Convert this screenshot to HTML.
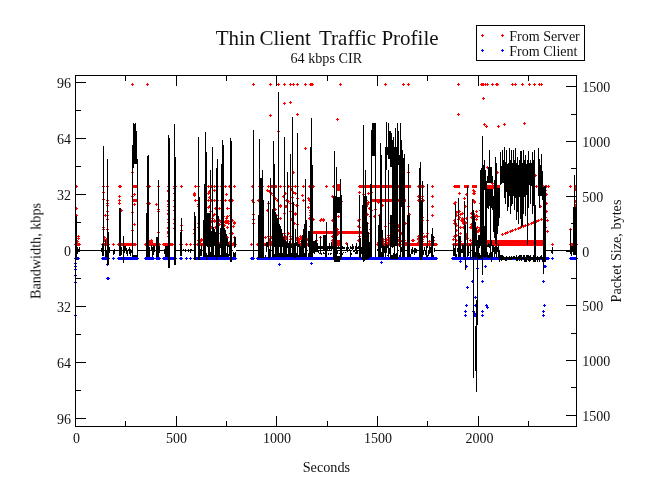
<!DOCTYPE html>
<html><head><meta charset="utf-8"><title>Thin Client Traffic Profile</title>
<style>
html,body{margin:0;padding:0;background:#fff;}
body{width:649px;height:501px;overflow:hidden;font-family:"Liberation Serif",serif;}
svg{display:block;}
</style></head><body>
<svg width="649" height="501" viewBox="0 0 649 501">
<rect x="0" y="0" width="649" height="501" fill="#fff"/>
<path d="M74 244h7v1h-7zM75 243h5v3h-5zM101 244h9v1h-9zM102 243h7v3h-7zM112 244h3v1h-3zM113 243h1v3h-1zM117 244h20v1h-20zM118 243h18v3h-18zM144 244h13v1h-13zM145 243h11v3h-11zM155 244h6v1h-6zM156 243h4v3h-4zM162 244h12v1h-12zM163 243h10v3h-10zM179 244h4v1h-4zM180 243h2v3h-2zM185 244h3v1h-3zM186 243h1v3h-1zM189 244h3v1h-3zM190 243h1v3h-1zM193 244h2v1h-2zM194 243h1v3h-1zM196 244h9v1h-9zM197 243h7v3h-7zM203 244h34v1h-34zM204 243h32v3h-32zM250 244h3v1h-3zM251 243h1v3h-1zM256 244h57v1h-57zM257 243h55v3h-55zM362 244h3v1h-3zM363 243h1v3h-1zM369 244h3v1h-3zM370 243h1v3h-1zM376 244h26v1h-26zM377 243h24v3h-24zM403 244h35v1h-35zM404 243h33v3h-33zM452 244h34v1h-34zM453 243h32v3h-32zM551 244h3v1h-3zM552 243h1v3h-1zM569 244h9v1h-9zM570 243h7v3h-7zM132 185h6v3h-6zM132 199h6v3h-6zM226 208h4v1h-4zM271 185h6v3h-6zM337 184h4v7h-4zM312 231h51v3h-51zM332 240h10v6h-10zM359 185h52v3h-52zM370 199h36v3h-36zM454 185h6v3h-6zM464 185h5v3h-5zM472 185h5v3h-5zM480 185h20v4h-20zM485 240h60v6h-60zM379 243h7v3h-7zM131 84h3v1h-3zM132 83h1v3h-1zM146 84h3v1h-3zM147 83h1v3h-1zM252 84h3v1h-3zM253 83h1v3h-1zM269 84h3v1h-3zM270 83h1v3h-1zM277 84h3v1h-3zM278 83h1v3h-1zM283 84h3v1h-3zM284 83h1v3h-1zM289 84h3v1h-3zM290 83h1v3h-1zM292 84h3v1h-3zM293 83h1v3h-1zM296 84h3v1h-3zM297 83h1v3h-1zM304 84h3v1h-3zM305 83h1v3h-1zM309 84h3v1h-3zM310 83h1v3h-1zM310 84h3v1h-3zM311 83h1v3h-1zM311 84h3v1h-3zM312 83h1v3h-1zM339 84h3v1h-3zM340 83h1v3h-1zM384 84h3v1h-3zM385 83h1v3h-1zM402 84h3v1h-3zM403 83h1v3h-1zM407 84h3v1h-3zM408 83h1v3h-1zM457 84h3v1h-3zM458 83h1v3h-1zM480 84h3v1h-3zM481 83h1v3h-1zM481 84h3v1h-3zM482 83h1v3h-1zM482 84h3v1h-3zM483 83h1v3h-1zM484 84h3v1h-3zM485 83h1v3h-1zM486 84h3v1h-3zM487 83h1v3h-1zM491 84h3v1h-3zM492 83h1v3h-1zM495 84h3v1h-3zM496 83h1v3h-1zM496 84h3v1h-3zM497 83h1v3h-1zM511 84h3v1h-3zM512 83h1v3h-1zM514 84h3v1h-3zM515 83h1v3h-1zM521 84h3v1h-3zM522 83h1v3h-1zM528 84h3v1h-3zM529 83h1v3h-1zM533 84h3v1h-3zM534 83h1v3h-1zM538 84h3v1h-3zM539 83h1v3h-1zM540 84h3v1h-3zM541 83h1v3h-1zM283 103h3v1h-3zM284 102h1v3h-1zM289 102h3v1h-3zM290 101h1v3h-1zM269 115h3v1h-3zM270 114h1v3h-1zM296 114h3v1h-3zM297 113h1v3h-1zM336 119h3v1h-3zM337 118h1v3h-1zM277 131h3v1h-3zM278 130h1v3h-1zM304 148h3v1h-3zM305 147h1v3h-1zM292 172h3v1h-3zM293 171h1v3h-1zM457 114h3v1h-3zM458 113h1v3h-1zM482 98h3v1h-3zM483 97h1v3h-1zM483 124h3v1h-3zM484 123h1v3h-1zM485 126h3v1h-3zM486 125h1v3h-1zM497 126h3v1h-3zM498 125h1v3h-1zM503 124h3v1h-3zM504 123h1v3h-1zM523 123h3v1h-3zM524 122h1v3h-1zM407 172h3v1h-3zM408 171h1v3h-1zM486 167h3v1h-3zM487 166h1v3h-1zM131 172h3v1h-3zM132 171h1v3h-1zM496 172h3v1h-3zM497 171h1v3h-1zM491 183h3v1h-3zM492 182h1v3h-1zM534 175h3v1h-3zM535 174h1v3h-1zM75 186h3v1h-3zM76 185h1v3h-1zM75 208h3v1h-3zM76 207h1v3h-1zM75 215h3v1h-3zM76 214h1v3h-1zM75 236h3v1h-3zM76 235h1v3h-1zM75 241h3v1h-3zM76 240h1v3h-1zM102 186h3v1h-3zM103 185h1v3h-1zM102 192h3v1h-3zM103 191h1v3h-1zM102 199h3v1h-3zM103 198h1v3h-1zM102 227h3v1h-3zM103 226h1v3h-1zM102 229h3v1h-3zM103 228h1v3h-1zM104 215h3v1h-3zM105 214h1v3h-1zM106 186h3v1h-3zM107 185h1v3h-1zM106 200h3v1h-3zM107 199h1v3h-1zM106 203h3v1h-3zM107 202h1v3h-1zM106 205h3v1h-3zM107 204h1v3h-1zM106 211h3v1h-3zM107 210h1v3h-1zM106 215h3v1h-3zM107 214h1v3h-1zM106 219h3v1h-3zM107 218h1v3h-1zM106 229h3v1h-3zM107 228h1v3h-1zM118 186h3v1h-3zM119 185h1v3h-1zM118 196h3v1h-3zM119 195h1v3h-1zM118 200h3v1h-3zM119 199h1v3h-1zM118 203h3v1h-3zM119 202h1v3h-1zM120 210h3v1h-3zM121 209h1v3h-1zM119 186h3v1h-3zM120 185h1v3h-1zM131 196h3v1h-3zM132 195h1v3h-1zM131 212h3v1h-3zM132 211h1v3h-1zM131 230h3v1h-3zM132 229h1v3h-1zM133 194h3v1h-3zM134 193h1v3h-1zM133 204h3v1h-3zM134 203h1v3h-1zM133 224h3v1h-3zM134 223h1v3h-1zM146 186h3v1h-3zM147 185h1v3h-1zM146 203h3v1h-3zM147 202h1v3h-1zM148 186h3v1h-3zM149 185h1v3h-1zM148 203h3v1h-3zM149 202h1v3h-1zM155 204h3v1h-3zM156 203h1v3h-1zM157 186h3v1h-3zM158 185h1v3h-1zM157 209h3v1h-3zM158 208h1v3h-1zM157 211h3v1h-3zM158 210h1v3h-1zM157 232h3v1h-3zM158 231h1v3h-1zM167 186h3v1h-3zM168 185h1v3h-1zM167 191h3v1h-3zM168 190h1v3h-1zM167 201h3v1h-3zM168 200h1v3h-1zM167 213h3v1h-3zM168 212h1v3h-1zM167 227h3v1h-3zM168 226h1v3h-1zM167 231h3v1h-3zM168 230h1v3h-1zM167 233h3v1h-3zM168 232h1v3h-1zM167 186h3v1h-3zM168 185h1v3h-1zM173 186h3v1h-3zM174 185h1v3h-1zM174 186h3v1h-3zM175 185h1v3h-1zM180 186h3v1h-3zM181 185h1v3h-1zM180 186h3v1h-3zM181 185h1v3h-1zM194 186h3v1h-3zM195 185h1v3h-1zM194 186h3v1h-3zM195 185h1v3h-1zM197 186h3v1h-3zM198 185h1v3h-1zM204 186h3v1h-3zM205 185h1v3h-1zM207 186h3v1h-3zM208 185h1v3h-1zM210 186h3v1h-3zM211 185h1v3h-1zM213 186h3v1h-3zM214 185h1v3h-1zM216 186h3v1h-3zM217 185h1v3h-1zM220 186h3v1h-3zM221 185h1v3h-1zM224 186h3v1h-3zM225 185h1v3h-1zM228 186h3v1h-3zM229 185h1v3h-1zM233 186h3v1h-3zM234 185h1v3h-1zM233 186h3v1h-3zM234 185h1v3h-1zM251 186h3v1h-3zM252 185h1v3h-1zM258 186h3v1h-3zM259 185h1v3h-1zM261 186h3v1h-3zM262 185h1v3h-1zM167 200h3v1h-3zM168 199h1v3h-1zM173 200h3v1h-3zM174 199h1v3h-1zM194 200h3v1h-3zM195 199h1v3h-1zM197 200h3v1h-3zM198 199h1v3h-1zM207 200h3v1h-3zM208 199h1v3h-1zM210 200h3v1h-3zM211 199h1v3h-1zM213 200h3v1h-3zM214 199h1v3h-1zM216 200h3v1h-3zM217 199h1v3h-1zM220 200h3v1h-3zM221 199h1v3h-1zM224 200h3v1h-3zM225 199h1v3h-1zM228 200h3v1h-3zM229 199h1v3h-1zM231 200h3v1h-3zM232 199h1v3h-1zM251 200h3v1h-3zM252 199h1v3h-1zM257 200h3v1h-3zM258 199h1v3h-1zM167 190h3v1h-3zM168 189h1v3h-1zM167 204h3v1h-3zM168 203h1v3h-1zM167 206h3v1h-3zM168 205h1v3h-1zM167 210h3v1h-3zM168 209h1v3h-1zM167 214h3v1h-3zM168 213h1v3h-1zM167 219h3v1h-3zM168 218h1v3h-1zM167 222h3v1h-3zM168 221h1v3h-1zM167 228h3v1h-3zM168 227h1v3h-1zM167 232h3v1h-3zM168 231h1v3h-1zM167 236h3v1h-3zM168 235h1v3h-1zM173 188h3v1h-3zM174 187h1v3h-1zM173 193h3v1h-3zM174 192h1v3h-1zM173 206h3v1h-3zM174 205h1v3h-1zM173 210h3v1h-3zM174 209h1v3h-1zM173 219h3v1h-3zM174 218h1v3h-1zM173 223h3v1h-3zM174 222h1v3h-1zM173 228h3v1h-3zM174 227h1v3h-1zM180 225h3v1h-3zM181 224h1v3h-1zM180 230h3v1h-3zM181 229h1v3h-1zM193 193h3v1h-3zM194 192h1v3h-1zM193 194h3v1h-3zM194 193h1v3h-1zM193 195h3v1h-3zM194 194h1v3h-1zM193 229h3v1h-3zM194 228h1v3h-1zM193 233h3v1h-3zM194 232h1v3h-1zM197 204h3v1h-3zM198 203h1v3h-1zM197 206h3v1h-3zM198 205h1v3h-1zM197 223h3v1h-3zM198 222h1v3h-1zM197 227h3v1h-3zM198 226h1v3h-1zM208 191h3v1h-3zM209 190h1v3h-1zM207 193h3v1h-3zM208 192h1v3h-1zM208 197h3v1h-3zM209 196h1v3h-1zM208 206h3v1h-3zM209 205h1v3h-1zM207 207h3v1h-3zM208 206h1v3h-1zM209 211h3v1h-3zM210 210h1v3h-1zM209 220h3v1h-3zM210 219h1v3h-1zM207 221h3v1h-3zM208 220h1v3h-1zM208 223h3v1h-3zM209 222h1v3h-1zM213 190h3v1h-3zM214 189h1v3h-1zM214 208h3v1h-3zM215 207h1v3h-1zM213 214h3v1h-3zM214 213h1v3h-1zM213 220h3v1h-3zM214 219h1v3h-1zM213 221h3v1h-3zM214 220h1v3h-1zM214 227h3v1h-3zM215 226h1v3h-1zM218 208h3v1h-3zM219 207h1v3h-1zM218 220h3v1h-3zM219 219h1v3h-1zM225 194h3v1h-3zM226 193h1v3h-1zM226 208h3v1h-3zM227 207h1v3h-1zM226 216h3v1h-3zM227 215h1v3h-1zM225 220h3v1h-3zM226 219h1v3h-1zM227 221h3v1h-3zM228 220h1v3h-1zM225 222h3v1h-3zM226 221h1v3h-1zM227 223h3v1h-3zM228 222h1v3h-1zM226 227h3v1h-3zM227 226h1v3h-1zM231 233h3v1h-3zM232 232h1v3h-1zM233 237h3v1h-3zM234 236h1v3h-1zM252 202h3v1h-3zM253 201h1v3h-1zM252 214h3v1h-3zM253 213h1v3h-1zM252 219h3v1h-3zM253 218h1v3h-1zM252 223h3v1h-3zM253 222h1v3h-1zM260 188h3v1h-3zM261 187h1v3h-1zM260 196h3v1h-3zM261 195h1v3h-1zM260 206h3v1h-3zM261 205h1v3h-1zM259 186h3v1h-3zM260 185h1v3h-1zM261 186h3v1h-3zM262 185h1v3h-1zM267 186h3v1h-3zM268 185h1v3h-1zM279 186h3v1h-3zM280 185h1v3h-1zM279 186h3v1h-3zM280 185h1v3h-1zM283 186h3v1h-3zM284 185h1v3h-1zM287 186h3v1h-3zM288 185h1v3h-1zM291 186h3v1h-3zM292 185h1v3h-1zM294 186h3v1h-3zM295 185h1v3h-1zM296 186h3v1h-3zM297 185h1v3h-1zM302 186h3v1h-3zM303 185h1v3h-1zM308 186h3v1h-3zM309 185h1v3h-1zM312 186h3v1h-3zM313 185h1v3h-1zM325 186h3v1h-3zM326 185h1v3h-1zM332 186h3v1h-3zM333 185h1v3h-1zM358 186h3v1h-3zM359 185h1v3h-1zM292 172h3v1h-3zM293 171h1v3h-1zM266 190h3v1h-3zM267 189h1v3h-1zM268 191h3v1h-3zM269 190h1v3h-1zM270 193h3v1h-3zM271 192h1v3h-1zM272 195h3v1h-3zM273 194h1v3h-1zM274 198h3v1h-3zM275 197h1v3h-1zM276 200h3v1h-3zM277 199h1v3h-1zM279 205h3v1h-3zM280 204h1v3h-1zM274 209h3v1h-3zM275 208h1v3h-1zM267 203h3v1h-3zM268 202h1v3h-1zM266 210h3v1h-3zM267 209h1v3h-1zM282 196h3v1h-3zM283 195h1v3h-1zM284 193h3v1h-3zM285 192h1v3h-1zM285 200h3v1h-3zM286 199h1v3h-1zM287 201h3v1h-3zM288 200h1v3h-1zM289 203h3v1h-3zM290 202h1v3h-1zM285 206h3v1h-3zM286 205h1v3h-1zM283 213h3v1h-3zM284 212h1v3h-1zM289 211h3v1h-3zM290 210h1v3h-1zM290 189h3v1h-3zM291 188h1v3h-1zM292 192h3v1h-3zM293 191h1v3h-1zM294 193h3v1h-3zM295 192h1v3h-1zM296 198h3v1h-3zM297 197h1v3h-1zM291 197h3v1h-3zM292 196h1v3h-1zM292 204h3v1h-3zM293 203h1v3h-1zM295 205h3v1h-3zM296 204h1v3h-1zM294 213h3v1h-3zM295 212h1v3h-1zM301 195h3v1h-3zM302 194h1v3h-1zM302 200h3v1h-3zM303 199h1v3h-1zM307 198h3v1h-3zM308 197h1v3h-1zM308 200h3v1h-3zM309 199h1v3h-1zM309 203h3v1h-3zM310 202h1v3h-1zM307 207h3v1h-3zM308 206h1v3h-1zM309 210h3v1h-3zM310 209h1v3h-1zM309 212h3v1h-3zM310 211h1v3h-1zM331 196h3v1h-3zM332 195h1v3h-1zM334 201h3v1h-3zM335 200h1v3h-1zM340 201h3v1h-3zM341 200h1v3h-1zM358 192h3v1h-3zM359 191h1v3h-1zM266 210h3v1h-3zM267 209h1v3h-1zM279 206h3v1h-3zM280 205h1v3h-1zM284 206h3v1h-3zM285 205h1v3h-1zM296 205h3v1h-3zM297 204h1v3h-1zM275 215h3v1h-3zM276 214h1v3h-1zM279 218h3v1h-3zM280 217h1v3h-1zM283 213h3v1h-3zM284 212h1v3h-1zM294 214h3v1h-3zM295 213h1v3h-1zM290 219h3v1h-3zM291 218h1v3h-1zM293 223h3v1h-3zM294 222h1v3h-1zM296 224h3v1h-3zM297 223h1v3h-1zM283 233h3v1h-3zM284 232h1v3h-1zM287 233h3v1h-3zM288 232h1v3h-1zM267 236h3v1h-3zM268 235h1v3h-1zM283 239h3v1h-3zM284 238h1v3h-1zM289 236h3v1h-3zM290 235h1v3h-1zM299 236h3v1h-3zM300 235h1v3h-1zM300 238h3v1h-3zM301 237h1v3h-1zM298 241h3v1h-3zM299 240h1v3h-1zM308 218h3v1h-3zM309 217h1v3h-1zM309 226h3v1h-3zM310 225h1v3h-1zM309 215h3v1h-3zM310 214h1v3h-1zM312 219h3v1h-3zM313 218h1v3h-1zM319 220h3v1h-3zM320 219h1v3h-1zM320 219h3v1h-3zM321 218h1v3h-1zM322 219h3v1h-3zM323 218h1v3h-1zM322 220h3v1h-3zM323 219h1v3h-1zM331 220h3v1h-3zM332 219h1v3h-1zM337 216h3v1h-3zM338 215h1v3h-1zM357 220h3v1h-3zM358 219h1v3h-1zM357 226h3v1h-3zM358 225h1v3h-1zM336 229h3v1h-3zM337 228h1v3h-1zM336 234h3v1h-3zM337 233h1v3h-1zM331 236h3v1h-3zM332 235h1v3h-1zM331 240h3v1h-3zM332 239h1v3h-1zM357 240h3v1h-3zM358 239h1v3h-1zM345 243h3v1h-3zM346 242h1v3h-1zM315 240h3v1h-3zM316 239h1v3h-1zM319 237h3v1h-3zM320 236h1v3h-1zM417 186h3v1h-3zM418 185h1v3h-1zM420 186h3v1h-3zM421 185h1v3h-1zM422 186h3v1h-3zM423 185h1v3h-1zM431 186h3v1h-3zM432 185h1v3h-1zM431 186h3v1h-3zM432 185h1v3h-1zM417 200h3v1h-3zM418 199h1v3h-1zM419 200h3v1h-3zM420 199h1v3h-1zM422 200h3v1h-3zM423 199h1v3h-1zM431 196h3v1h-3zM432 195h1v3h-1zM431 206h3v1h-3zM432 205h1v3h-1zM431 215h3v1h-3zM432 214h1v3h-1zM453 186h3v1h-3zM454 185h1v3h-1zM453 203h3v1h-3zM454 202h1v3h-1zM453 223h3v1h-3zM454 222h1v3h-1zM453 236h3v1h-3zM454 235h1v3h-1zM358 186h3v1h-3zM359 185h1v3h-1zM358 192h3v1h-3zM359 191h1v3h-1zM362 194h3v1h-3zM363 193h1v3h-1zM364 196h3v1h-3zM365 195h1v3h-1zM365 200h3v1h-3zM366 199h1v3h-1zM367 202h3v1h-3zM368 201h1v3h-1zM366 204h3v1h-3zM367 203h1v3h-1zM365 206h3v1h-3zM366 205h1v3h-1zM368 208h3v1h-3zM369 207h1v3h-1zM370 210h3v1h-3zM371 209h1v3h-1zM374 209h3v1h-3zM375 208h1v3h-1zM369 216h3v1h-3zM370 215h1v3h-1zM373 216h3v1h-3zM374 215h1v3h-1zM358 219h3v1h-3zM359 218h1v3h-1zM358 227h3v1h-3zM359 226h1v3h-1zM358 236h3v1h-3zM359 235h1v3h-1zM366 214h3v1h-3zM367 213h1v3h-1zM366 223h3v1h-3zM367 222h1v3h-1zM369 229h3v1h-3zM370 228h1v3h-1zM369 233h3v1h-3zM370 232h1v3h-1zM367 193h3v1h-3zM368 192h1v3h-1zM370 192h3v1h-3zM371 191h1v3h-1zM377 202h3v1h-3zM378 201h1v3h-1zM378 215h3v1h-3zM379 214h1v3h-1zM381 205h3v1h-3zM382 204h1v3h-1zM384 226h3v1h-3zM385 225h1v3h-1zM387 235h3v1h-3zM388 234h1v3h-1zM389 223h3v1h-3zM390 222h1v3h-1zM390 227h3v1h-3zM391 226h1v3h-1zM390 229h3v1h-3zM391 228h1v3h-1zM397 225h3v1h-3zM398 224h1v3h-1zM398 227h3v1h-3zM399 226h1v3h-1zM400 233h3v1h-3zM401 232h1v3h-1zM397 230h3v1h-3zM398 229h1v3h-1zM389 239h3v1h-3zM390 238h1v3h-1zM404 223h3v1h-3zM405 222h1v3h-1zM407 206h3v1h-3zM408 205h1v3h-1zM408 214h3v1h-3zM409 213h1v3h-1zM407 223h3v1h-3zM408 222h1v3h-1zM407 228h3v1h-3zM408 227h1v3h-1zM407 236h3v1h-3zM408 235h1v3h-1zM421 217h3v1h-3zM422 216h1v3h-1zM421 220h3v1h-3zM422 219h1v3h-1zM426 220h3v1h-3zM427 219h1v3h-1zM426 233h3v1h-3zM427 232h1v3h-1zM421 233h3v1h-3zM422 232h1v3h-1zM421 237h3v1h-3zM422 236h1v3h-1zM417 196h3v1h-3zM418 195h1v3h-1zM419 198h3v1h-3zM420 197h1v3h-1zM421 196h3v1h-3zM422 195h1v3h-1zM532 186h3v1h-3zM533 185h1v3h-1zM535 186h3v1h-3zM536 185h1v3h-1zM537 186h3v1h-3zM538 185h1v3h-1zM539 186h3v1h-3zM540 185h1v3h-1zM542 186h3v1h-3zM543 185h1v3h-1zM545 186h3v1h-3zM546 185h1v3h-1zM547 186h3v1h-3zM548 185h1v3h-1zM458 193h3v1h-3zM459 192h1v3h-1zM463 198h3v1h-3zM464 197h1v3h-1zM472 190h3v1h-3zM473 189h1v3h-1zM473 191h3v1h-3zM474 190h1v3h-1zM472 193h3v1h-3zM473 192h1v3h-1zM473 193h3v1h-3zM474 192h1v3h-1zM472 200h3v1h-3zM473 199h1v3h-1zM473 201h3v1h-3zM474 200h1v3h-1zM473 202h3v1h-3zM474 201h1v3h-1zM454 202h3v1h-3zM455 201h1v3h-1zM458 211h3v1h-3zM459 210h1v3h-1zM459 214h3v1h-3zM460 213h1v3h-1zM458 217h3v1h-3zM459 216h1v3h-1zM460 220h3v1h-3zM461 219h1v3h-1zM470 213h3v1h-3zM471 212h1v3h-1zM472 215h3v1h-3zM473 214h1v3h-1zM474 216h3v1h-3zM475 215h1v3h-1zM475 219h3v1h-3zM476 218h1v3h-1zM476 227h3v1h-3zM477 226h1v3h-1zM478 229h3v1h-3zM479 228h1v3h-1zM477 231h3v1h-3zM478 230h1v3h-1zM479 227h3v1h-3zM480 226h1v3h-1zM459 227h3v1h-3zM460 226h1v3h-1zM459 233h3v1h-3zM460 232h1v3h-1zM454 223h3v1h-3zM455 222h1v3h-1zM454 236h3v1h-3zM455 235h1v3h-1zM469 227h3v1h-3zM470 226h1v3h-1zM464 206h3v1h-3zM465 205h1v3h-1zM464 222h3v1h-3zM465 221h1v3h-1zM465 194h3v1h-3zM466 193h1v3h-1zM479 203h3v1h-3zM480 202h1v3h-1zM479 210h3v1h-3zM480 209h1v3h-1zM479 216h3v1h-3zM480 215h1v3h-1zM481 234h3v1h-3zM482 233h1v3h-1zM482 237h3v1h-3zM483 236h1v3h-1zM465 236h3v1h-3zM466 235h1v3h-1zM469 240h3v1h-3zM470 239h1v3h-1zM545 194h3v1h-3zM546 193h1v3h-1zM545 203h3v1h-3zM546 202h1v3h-1zM545 211h3v1h-3zM546 210h1v3h-1zM546 220h3v1h-3zM547 219h1v3h-1zM546 231h3v1h-3zM547 230h1v3h-1zM539 206h3v1h-3zM540 205h1v3h-1zM501 234h3v1h-3zM502 233h1v3h-1zM504 233h3v1h-3zM505 232h1v3h-1zM506 232h3v1h-3zM507 231h1v3h-1zM509 231h3v1h-3zM510 230h1v3h-1zM511 230h3v1h-3zM512 229h1v3h-1zM514 229h3v1h-3zM515 228h1v3h-1zM517 228h3v1h-3zM518 227h1v3h-1zM519 227h3v1h-3zM520 226h1v3h-1zM522 226h3v1h-3zM523 225h1v3h-1zM524 225h3v1h-3zM525 224h1v3h-1zM527 224h3v1h-3zM528 223h1v3h-1zM530 223h3v1h-3zM531 222h1v3h-1zM532 222h3v1h-3zM533 221h1v3h-1zM535 221h3v1h-3zM536 220h1v3h-1zM537 220h3v1h-3zM538 219h1v3h-1zM540 219h3v1h-3zM541 218h1v3h-1zM543 218h3v1h-3zM544 217h1v3h-1zM569 186h3v1h-3zM570 185h1v3h-1zM569 229h3v1h-3zM570 228h1v3h-1zM574 186h3v1h-3zM575 185h1v3h-1zM574 189h3v1h-3zM575 188h1v3h-1zM574 201h3v1h-3zM575 200h1v3h-1zM574 205h3v1h-3zM575 204h1v3h-1zM574 211h3v1h-3zM575 210h1v3h-1zM574 226h3v1h-3zM575 225h1v3h-1zM574 229h3v1h-3zM575 228h1v3h-1zM574 235h3v1h-3zM575 234h1v3h-1zM544 186h3v1h-3zM545 185h1v3h-1zM544 190h3v1h-3zM545 189h1v3h-1zM544 195h3v1h-3zM545 194h1v3h-1zM544 211h3v1h-3zM545 210h1v3h-1zM544 217h3v1h-3zM545 216h1v3h-1zM544 227h3v1h-3zM545 226h1v3h-1zM544 231h3v1h-3zM545 230h1v3h-1zM105 241h3v1h-3zM106 240h1v3h-1zM103 240h3v1h-3zM104 239h1v3h-1zM103 237h3v1h-3zM104 236h1v3h-1zM105 240h3v1h-3zM106 239h1v3h-1zM105 239h3v1h-3zM106 238h1v3h-1zM105 241h3v1h-3zM106 240h1v3h-1zM150 243h3v1h-3zM151 242h1v3h-1zM150 240h3v1h-3zM151 239h1v3h-1zM149 243h3v1h-3zM150 242h1v3h-1zM148 241h3v1h-3zM149 240h1v3h-1zM150 241h3v1h-3zM151 240h1v3h-1zM150 242h3v1h-3zM151 241h1v3h-1zM148 242h3v1h-3zM149 241h1v3h-1zM149 241h3v1h-3zM150 240h1v3h-1zM77 238h3v1h-3zM78 237h1v3h-1zM77 236h3v1h-3zM78 235h1v3h-1zM76 241h3v1h-3zM77 240h1v3h-1zM77 238h3v1h-3zM78 237h1v3h-1zM198 240h3v1h-3zM199 239h1v3h-1zM200 239h3v1h-3zM201 238h1v3h-1zM197 240h3v1h-3zM198 239h1v3h-1zM200 239h3v1h-3zM201 238h1v3h-1zM200 240h3v1h-3zM201 239h1v3h-1zM199 241h3v1h-3zM200 240h1v3h-1zM283 241h3v1h-3zM284 240h1v3h-1zM305 238h3v1h-3zM306 237h1v3h-1zM308 238h3v1h-3zM309 237h1v3h-1zM291 239h3v1h-3zM292 238h1v3h-1zM271 238h3v1h-3zM272 237h1v3h-1zM297 238h3v1h-3zM298 237h1v3h-1zM306 239h3v1h-3zM307 238h1v3h-1zM269 238h3v1h-3zM270 237h1v3h-1zM274 236h3v1h-3zM275 235h1v3h-1zM282 239h3v1h-3zM283 238h1v3h-1zM296 242h3v1h-3zM297 241h1v3h-1zM295 238h3v1h-3zM296 237h1v3h-1zM272 236h3v1h-3zM273 235h1v3h-1zM268 240h3v1h-3zM269 239h1v3h-1zM261 241h3v1h-3zM262 240h1v3h-1zM270 237h3v1h-3zM271 236h1v3h-1zM268 239h3v1h-3zM269 238h1v3h-1zM291 238h3v1h-3zM292 237h1v3h-1zM267 242h3v1h-3zM268 241h1v3h-1zM308 240h3v1h-3zM309 239h1v3h-1zM297 239h3v1h-3zM298 238h1v3h-1zM304 242h3v1h-3zM305 241h1v3h-1zM295 239h3v1h-3zM296 238h1v3h-1zM280 238h3v1h-3zM281 237h1v3h-1zM285 238h3v1h-3zM286 237h1v3h-1zM270 242h3v1h-3zM271 241h1v3h-1zM283 236h3v1h-3zM284 235h1v3h-1zM291 236h3v1h-3zM292 235h1v3h-1zM289 239h3v1h-3zM290 238h1v3h-1zM308 240h3v1h-3zM309 239h1v3h-1zM264 237h3v1h-3zM265 236h1v3h-1zM279 240h3v1h-3zM280 239h1v3h-1zM308 240h3v1h-3zM309 239h1v3h-1zM284 236h3v1h-3zM285 235h1v3h-1zM285 242h3v1h-3zM286 241h1v3h-1zM285 238h3v1h-3zM286 237h1v3h-1zM268 241h3v1h-3zM269 240h1v3h-1zM298 239h3v1h-3zM299 238h1v3h-1zM295 239h3v1h-3zM296 238h1v3h-1zM271 242h3v1h-3zM272 241h1v3h-1zM397 240h3v1h-3zM398 239h1v3h-1zM428 241h3v1h-3zM429 240h1v3h-1zM393 240h3v1h-3zM394 239h1v3h-1zM382 241h3v1h-3zM383 240h1v3h-1zM406 242h3v1h-3zM407 241h1v3h-1zM396 237h3v1h-3zM397 236h1v3h-1zM407 239h3v1h-3zM408 238h1v3h-1zM412 240h3v1h-3zM413 239h1v3h-1zM421 241h3v1h-3zM422 240h1v3h-1zM387 237h3v1h-3zM388 236h1v3h-1zM399 241h3v1h-3zM400 240h1v3h-1zM388 239h3v1h-3zM389 238h1v3h-1zM417 242h3v1h-3zM418 241h1v3h-1zM421 239h3v1h-3zM422 238h1v3h-1zM387 240h3v1h-3zM388 239h1v3h-1zM396 241h3v1h-3zM397 240h1v3h-1zM417 238h3v1h-3zM418 237h1v3h-1zM431 236h3v1h-3zM432 235h1v3h-1zM382 239h3v1h-3zM383 238h1v3h-1zM395 239h3v1h-3zM396 238h1v3h-1zM432 240h3v1h-3zM433 239h1v3h-1zM377 242h3v1h-3zM378 241h1v3h-1zM396 240h3v1h-3zM397 239h1v3h-1zM423 236h3v1h-3zM424 235h1v3h-1zM398 240h3v1h-3zM399 239h1v3h-1zM388 242h3v1h-3zM389 241h1v3h-1zM401 240h3v1h-3zM402 239h1v3h-1zM381 242h3v1h-3zM382 241h1v3h-1zM417 239h3v1h-3zM418 238h1v3h-1zM418 236h3v1h-3zM419 235h1v3h-1zM385 242h3v1h-3zM386 241h1v3h-1zM378 240h3v1h-3zM379 239h1v3h-1zM403 240h3v1h-3zM404 239h1v3h-1zM411 240h3v1h-3zM412 239h1v3h-1zM403 242h3v1h-3zM404 241h1v3h-1zM385 239h3v1h-3zM386 238h1v3h-1zM378 241h3v1h-3zM379 240h1v3h-1zM417 236h3v1h-3zM418 235h1v3h-1zM418 236h3v1h-3zM419 235h1v3h-1zM432 237h3v1h-3zM433 236h1v3h-1zM425 236h3v1h-3zM426 235h1v3h-1zM388 239h3v1h-3zM389 238h1v3h-1zM419 238h3v1h-3zM420 237h1v3h-1zM407 241h3v1h-3zM408 240h1v3h-1zM380 241h3v1h-3zM381 240h1v3h-1zM476 231h3v1h-3zM477 230h1v3h-1zM474 227h3v1h-3zM475 226h1v3h-1zM474 238h3v1h-3zM475 237h1v3h-1zM455 215h3v1h-3zM456 214h1v3h-1zM465 238h3v1h-3zM466 237h1v3h-1zM472 230h3v1h-3zM473 229h1v3h-1zM472 214h3v1h-3zM473 213h1v3h-1zM455 230h3v1h-3zM456 229h1v3h-1zM455 212h3v1h-3zM456 211h1v3h-1zM470 227h3v1h-3zM471 226h1v3h-1zM465 235h3v1h-3zM466 234h1v3h-1zM475 211h3v1h-3zM476 210h1v3h-1zM457 211h3v1h-3zM458 210h1v3h-1zM454 224h3v1h-3zM455 223h1v3h-1zM452 239h3v1h-3zM453 238h1v3h-1zM453 220h3v1h-3zM454 219h1v3h-1zM478 230h3v1h-3zM479 229h1v3h-1zM457 219h3v1h-3zM458 218h1v3h-1zM465 236h3v1h-3zM466 235h1v3h-1zM465 218h3v1h-3zM466 217h1v3h-1zM466 238h3v1h-3zM467 237h1v3h-1zM477 240h3v1h-3zM478 239h1v3h-1zM476 216h3v1h-3zM477 215h1v3h-1zM464 223h3v1h-3zM465 222h1v3h-1zM462 220h3v1h-3zM463 219h1v3h-1zM470 224h3v1h-3zM471 223h1v3h-1zM457 219h3v1h-3zM458 218h1v3h-1zM455 235h3v1h-3zM456 234h1v3h-1zM477 231h3v1h-3zM478 230h1v3h-1zM461 218h3v1h-3zM462 217h1v3h-1zM455 225h3v1h-3zM456 224h1v3h-1zM472 213h3v1h-3zM473 212h1v3h-1zM475 215h3v1h-3zM476 214h1v3h-1zM470 217h3v1h-3zM471 216h1v3h-1zM471 242h3v1h-3zM472 241h1v3h-1zM462 223h3v1h-3zM463 222h1v3h-1zM461 213h3v1h-3zM462 212h1v3h-1zM461 221h3v1h-3zM462 220h1v3h-1zM464 233h3v1h-3zM465 232h1v3h-1zM462 227h3v1h-3zM463 226h1v3h-1zM459 241h3v1h-3zM460 240h1v3h-1zM455 240h3v1h-3zM456 239h1v3h-1zM210 239h3v1h-3zM211 238h1v3h-1zM206 222h3v1h-3zM207 221h1v3h-1zM231 220h3v1h-3zM232 219h1v3h-1zM226 237h3v1h-3zM227 236h1v3h-1zM229 233h3v1h-3zM230 232h1v3h-1zM232 226h3v1h-3zM233 225h1v3h-1zM220 229h3v1h-3zM221 228h1v3h-1zM218 224h3v1h-3zM219 223h1v3h-1zM212 237h3v1h-3zM213 236h1v3h-1zM209 240h3v1h-3zM210 239h1v3h-1zM212 215h3v1h-3zM213 214h1v3h-1zM206 222h3v1h-3zM207 221h1v3h-1zM222 221h3v1h-3zM223 220h1v3h-1zM211 218h3v1h-3zM212 217h1v3h-1zM204 242h3v1h-3zM205 241h1v3h-1zM216 240h3v1h-3zM217 239h1v3h-1zM222 216h3v1h-3zM223 215h1v3h-1zM225 241h3v1h-3zM226 240h1v3h-1zM233 222h3v1h-3zM234 221h1v3h-1zM209 241h3v1h-3zM210 240h1v3h-1zM222 229h3v1h-3zM223 228h1v3h-1zM210 227h3v1h-3zM211 226h1v3h-1zM224 222h3v1h-3zM225 221h1v3h-1zM228 242h3v1h-3zM229 241h1v3h-1zM205 215h3v1h-3zM206 214h1v3h-1zM219 242h3v1h-3zM220 241h1v3h-1zM219 221h3v1h-3zM220 220h1v3h-1zM217 233h3v1h-3zM218 232h1v3h-1zM223 233h3v1h-3zM224 232h1v3h-1zM220 239h3v1h-3zM221 238h1v3h-1zM233 223h3v1h-3zM234 222h1v3h-1zM210 221h3v1h-3zM211 220h1v3h-1zM209 239h3v1h-3zM210 238h1v3h-1zM225 218h3v1h-3zM226 217h1v3h-1zM233 242h3v1h-3zM234 241h1v3h-1zM229 215h3v1h-3zM230 214h1v3h-1zM222 239h3v1h-3zM223 238h1v3h-1zM216 216h3v1h-3zM217 215h1v3h-1zM223 225h3v1h-3zM224 224h1v3h-1zM219 242h3v1h-3zM220 241h1v3h-1z" fill="#f00" shape-rendering="crispEdges"/>
<path d="M74 258h6v1h-6zM75 257h4v3h-4zM101 258h9v1h-9zM102 257h7v3h-7zM112 258h3v1h-3zM113 257h1v3h-1zM117 258h22v1h-22zM118 257h20v3h-20zM144 258h11v1h-11zM145 257h9v3h-9zM155 258h6v1h-6zM156 257h4v3h-4zM162 258h15v1h-15zM163 257h13v3h-13zM179 258h4v1h-4zM180 257h2v3h-2zM185 258h3v1h-3zM186 257h1v3h-1zM189 258h3v1h-3zM190 257h1v3h-1zM193 258h44v1h-44zM194 257h42v3h-42zM250 258h5v1h-5zM251 257h3v3h-3zM256 258h182v1h-182zM257 257h180v3h-180zM451 258h99v1h-99zM452 257h97v3h-97zM551 258h3v1h-3zM552 257h1v3h-1zM569 258h9v1h-9zM570 257h7v3h-7zM74 263h3v1h-3zM75 262h1v3h-1zM74 266h3v1h-3zM75 265h1v3h-1zM74 269h3v1h-3zM75 268h1v3h-1zM74 275h3v1h-3zM75 274h1v3h-1zM74 282h3v1h-3zM75 281h1v3h-1zM74 315h3v1h-3zM75 314h1v3h-1zM106 264h3v1h-3zM107 263h1v3h-1zM106 278h3v1h-3zM107 277h1v3h-1zM107 278h3v1h-3zM108 277h1v3h-1zM278 264h3v1h-3zM279 263h1v3h-1zM459 261h3v1h-3zM460 260h1v3h-1zM465 266h3v1h-3zM466 265h1v3h-1zM476 268h3v1h-3zM477 267h1v3h-1zM484 266h3v1h-3zM485 265h1v3h-1zM471 281h3v1h-3zM472 280h1v3h-1zM481 281h3v1h-3zM482 280h1v3h-1zM466 287h3v1h-3zM467 286h1v3h-1zM474 297h3v1h-3zM475 296h1v3h-1zM543 266h3v1h-3zM544 265h1v3h-1zM542 281h3v1h-3zM543 280h1v3h-1zM465 305h3v1h-3zM466 304h1v3h-1zM464 311h3v1h-3zM465 310h1v3h-1zM464 315h3v1h-3zM465 314h1v3h-1zM474 305h3v1h-3zM475 304h1v3h-1zM472 311h3v1h-3zM473 310h1v3h-1zM473 313h3v1h-3zM474 312h1v3h-1zM473 315h3v1h-3zM474 314h1v3h-1zM474 315h3v1h-3zM475 314h1v3h-1zM481 311h3v1h-3zM482 310h1v3h-1zM481 315h3v1h-3zM482 314h1v3h-1zM485 305h3v1h-3zM486 304h1v3h-1zM486 307h3v1h-3zM487 306h1v3h-1zM543 305h3v1h-3zM544 304h1v3h-1zM542 311h3v1h-3zM543 310h1v3h-1zM542 315h3v1h-3zM543 314h1v3h-1zM544 266h3v1h-3zM545 265h1v3h-1zM380 262h3v1h-3zM381 261h1v3h-1zM310 263h3v1h-3zM311 262h1v3h-1z" fill="#00f" shape-rendering="crispEdges"/>
<path d="M76 216h1v44h-1zM103 146h1v110h-1zM105 240h1v17h-1zM107 159h1v106h-1zM108 232h1v33h-1zM119 208h1v48h-1zM120 208h1v48h-1zM123 236h1v27h-1zM132 145h1v111h-1zM133 123h1v45h-1zM134 124h1v40h-1zM135 123h1v41h-1zM136 131h1v33h-1zM137 159h1v97h-1zM132 255h1v2h-1zM133 255h1v2h-1zM134 255h1v2h-1zM135 255h1v2h-1zM136 255h1v2h-1zM137 255h1v2h-1zM146 213h1v44h-1zM147 156h1v101h-1zM148 155h1v102h-1zM156 237h1v20h-1zM157 237h1v20h-1zM158 180h1v77h-1zM168 135h1v133h-1zM169 138h1v130h-1zM165 246h1v11h-1zM166 246h1v11h-1zM167 246h1v11h-1zM174 124h1v141h-1zM175 157h1v108h-1zM180 232h1v24h-1zM181 218h1v38h-1zM194 212h1v48h-1zM195 216h1v44h-1zM198 137h1v123h-1zM199 197h1v63h-1zM203 220h1v37h-1zM204 184h1v73h-1zM205 132h1v125h-1zM206 152h1v108h-1zM207 213h1v44h-1zM208 213h1v44h-1zM209 213h1v44h-1zM210 170h1v87h-1zM211 231h1v26h-1zM212 147h1v110h-1zM213 227h1v30h-1zM214 229h1v28h-1zM215 232h1v25h-1zM216 168h1v92h-1zM217 159h1v98h-1zM218 216h1v41h-1zM219 244h1v13h-1zM220 228h1v29h-1zM221 164h1v93h-1zM222 140h1v117h-1zM223 145h1v112h-1zM224 228h1v29h-1zM225 230h1v27h-1zM226 234h1v23h-1zM227 238h1v19h-1zM228 242h1v15h-1zM230 138h1v124h-1zM231 141h1v121h-1zM234 237h1v20h-1zM235 237h1v20h-1zM253 130h1v127h-1zM258 215h1v43h-1zM259 139h1v119h-1zM260 178h1v80h-1zM261 178h1v80h-1zM262 170h1v88h-1zM263 200h1v58h-1zM268 201h1v56h-1zM270 178h1v79h-1zM272 209h1v48h-1zM273 141h1v116h-1zM274 164h1v93h-1zM275 212h1v45h-1zM276 215h1v42h-1zM277 218h1v39h-1zM278 92h1v165h-1zM279 224h1v33h-1zM280 226h1v31h-1zM281 229h1v28h-1zM282 233h1v24h-1zM283 237h1v20h-1zM284 137h1v120h-1zM285 240h1v17h-1zM286 242h1v15h-1zM287 172h1v85h-1zM288 243h1v14h-1zM289 241h1v16h-1zM290 154h1v103h-1zM291 244h1v13h-1zM292 117h1v140h-1zM293 202h1v55h-1zM294 243h1v14h-1zM295 229h1v28h-1zM296 242h1v15h-1zM297 133h1v124h-1zM298 244h1v13h-1zM299 245h1v12h-1zM300 246h1v11h-1zM301 240h1v17h-1zM302 235h1v22h-1zM303 229h1v28h-1zM304 224h1v33h-1zM305 179h1v78h-1zM306 220h1v37h-1zM308 231h1v26h-1zM309 231h1v26h-1zM310 147h1v110h-1zM311 118h1v139h-1zM312 165h1v92h-1zM313 241h1v9h-1zM314 241h1v9h-1zM315 240h1v10h-1zM316 234h1v16h-1zM317 243h1v7h-1zM320 236h1v14h-1zM323 235h1v15h-1zM324 235h1v15h-1zM325 235h1v15h-1zM326 222h1v35h-1zM329 243h1v7h-1zM331 242h1v8h-1zM333 196h1v64h-1zM334 151h1v111h-1zM335 196h1v66h-1zM336 167h1v93h-1zM337 197h1v16h-1zM338 197h1v16h-1zM339 197h1v16h-1zM336 256h1v6h-1zM337 256h1v6h-1zM338 256h1v6h-1zM339 256h1v6h-1zM340 179h1v81h-1zM341 195h1v63h-1zM347 243h1v7h-1zM352 244h1v6h-1zM356 243h1v7h-1zM359 195h1v63h-1zM360 238h1v20h-1zM362 205h1v55h-1zM363 125h1v137h-1zM364 196h1v65h-1zM365 170h1v90h-1zM366 196h1v64h-1zM367 222h1v37h-1zM368 232h1v27h-1zM369 242h1v16h-1zM370 184h1v73h-1zM371 130h1v127h-1zM372 123h1v33h-1zM373 123h1v33h-1zM374 123h1v33h-1zM375 123h1v134h-1zM378 225h1v32h-1zM379 215h1v42h-1zM380 143h1v114h-1zM381 155h1v102h-1zM382 230h1v27h-1zM385 147h1v110h-1zM386 122h1v48h-1zM387 147h1v8h-1zM388 123h1v36h-1zM389 131h1v28h-1zM388 170h1v87h-1zM390 131h1v36h-1zM390 215h1v44h-1zM391 133h1v34h-1zM391 215h1v44h-1zM392 140h1v119h-1zM393 137h1v122h-1zM394 147h1v112h-1zM395 128h1v131h-1zM396 147h1v112h-1zM397 123h1v136h-1zM398 131h1v34h-1zM399 155h1v52h-1zM400 123h1v84h-1zM401 140h1v67h-1zM402 150h1v57h-1zM399 207h1v50h-1zM400 207h1v50h-1zM402 207h1v50h-1zM403 158h1v99h-1zM404 154h1v103h-1zM407 215h1v42h-1zM408 164h1v93h-1zM409 215h1v42h-1zM419 168h1v89h-1zM420 162h1v98h-1zM421 200h1v60h-1zM422 181h1v76h-1zM427 184h1v73h-1zM431 234h1v23h-1zM432 228h1v29h-1zM433 236h1v21h-1zM453 248h1v8h-1zM454 248h1v8h-1zM455 248h1v8h-1zM455 204h1v53h-1zM458 198h1v59h-1zM459 236h1v21h-1zM460 236h1v21h-1zM464 201h1v56h-1zM465 225h1v45h-1zM467 186h1v71h-1zM472 199h1v58h-1zM473 210h1v168h-1zM474 216h1v41h-1zM475 222h1v35h-1zM476 228h1v29h-1zM478 235h1v22h-1zM479 235h1v22h-1zM475 326h1v45h-1zM476 300h1v92h-1zM477 240h1v85h-1zM480 170h1v87h-1zM481 168h1v89h-1zM482 136h1v139h-1zM483 165h1v92h-1zM484 160h1v30h-1zM484 226h1v31h-1zM485 170h1v87h-1zM486 181h1v76h-1zM487 176h1v7h-1zM487 189h1v19h-1zM487 245h1v13h-1zM488 167h1v16h-1zM488 189h1v20h-1zM488 244h1v14h-1zM489 150h1v33h-1zM489 189h1v17h-1zM489 244h1v14h-1zM491 167h1v16h-1zM491 189h1v19h-1zM491 244h1v14h-1zM492 176h1v7h-1zM492 189h1v21h-1zM492 245h1v13h-1zM490 167h1v16h-1zM490 189h1v68h-1zM491 240h1v22h-1zM493 196h1v36h-1zM494 180h1v58h-1zM495 157h1v87h-1zM496 163h1v94h-1zM497 188h1v46h-1zM498 188h1v38h-1zM499 188h1v30h-1zM500 152h1v33h-1zM501 166h1v18h-1zM502 150h1v33h-1zM503 160h1v23h-1zM504 147h1v51h-1zM505 162h1v42h-1zM506 150h1v42h-1zM507 164h1v47h-1zM508 163h1v44h-1zM509 148h1v48h-1zM510 160h1v54h-1zM511 150h1v56h-1zM512 163h1v41h-1zM513 150h1v46h-1zM514 160h1v50h-1zM515 148h1v50h-1zM516 163h1v57h-1zM517 157h1v55h-1zM518 165h1v59h-1zM519 160h1v37h-1zM520 151h1v68h-1zM521 151h1v77h-1zM522 163h1v63h-1zM523 150h1v64h-1zM524 160h1v37h-1zM525 155h1v61h-1zM526 164h1v31h-1zM527 160h1v85h-1zM528 151h1v57h-1zM529 163h1v22h-1zM530 160h1v44h-1zM531 163h1v23h-1zM532 152h1v62h-1zM533 160h1v46h-1zM534 150h1v43h-1zM534 193h1v69h-1zM535 205h1v57h-1zM538 148h1v48h-1zM539 159h1v49h-1zM540 165h1v31h-1zM541 154h1v42h-1zM542 171h1v29h-1zM543 187h1v87h-1zM544 186h1v76h-1zM545 186h1v74h-1zM570 229h1v25h-1zM573 207h1v48h-1zM574 175h1v80h-1zM575 207h1v48h-1zM76 250h28v1h-28zM109 250h10v1h-10zM138 250h8v1h-8zM160 250h4v1h-4zM176 250h4v1h-4zM182 250h12v1h-12zM236 250h17v1h-17zM254 250h4v1h-4zM434 250h20v1h-20zM546 250h25v1h-25zM77 247h1v7h-1zM78 249h1v3h-1zM79 247h1v5h-1zM101 248h1v4h-1zM102 244h1v12h-1zM103 246h1v8h-1zM104 250h1v1h-1zM105 246h1v10h-1zM106 250h1v7h-1zM107 250h1v1h-1zM108 249h1v6h-1zM109 247h1v6h-1zM113 250h1v5h-1zM114 249h1v5h-1zM120 250h1v4h-1zM121 247h1v8h-1zM122 250h1v1h-1zM123 248h1v5h-1zM124 246h1v7h-1zM125 246h1v5h-1zM126 248h1v6h-1zM127 250h1v6h-1zM128 249h1v2h-1zM129 247h1v7h-1zM130 249h1v7h-1zM131 250h1v3h-1zM149 247h1v10h-1zM150 250h1v1h-1zM151 245h1v6h-1zM152 247h1v10h-1zM153 245h1v10h-1zM154 246h1v6h-1zM155 250h1v1h-1zM156 247h1v9h-1zM157 247h1v7h-1zM158 250h1v1h-1zM159 246h1v7h-1zM160 250h1v1h-1zM164 249h1v5h-1zM165 250h1v1h-1zM166 250h1v1h-1zM167 250h1v1h-1zM183 249h1v2h-1zM184 250h1v1h-1zM185 249h1v3h-1zM186 250h1v1h-1zM187 250h1v1h-1zM188 249h1v3h-1zM189 250h1v1h-1zM190 249h1v4h-1zM191 249h1v2h-1zM199 248h1v4h-1zM200 249h1v7h-1zM201 245h1v11h-1zM202 250h1v1h-1zM203 247h1v7h-1zM203 247h1v4h-1zM204 250h1v5h-1zM205 250h1v1h-1zM206 245h1v9h-1zM207 246h1v8h-1zM208 249h1v7h-1zM209 250h1v1h-1zM210 247h1v8h-1zM211 246h1v9h-1zM212 249h1v3h-1zM213 250h1v1h-1zM214 247h1v7h-1zM215 250h1v2h-1zM216 246h1v9h-1zM217 250h1v1h-1zM218 249h1v5h-1zM219 250h1v1h-1zM220 245h1v10h-1zM221 249h1v6h-1zM222 250h1v4h-1zM223 250h1v1h-1zM224 250h1v1h-1zM225 250h1v4h-1zM226 248h1v5h-1zM227 250h1v1h-1zM228 248h1v8h-1zM229 245h1v11h-1zM230 248h1v5h-1zM231 247h1v4h-1zM232 250h1v1h-1zM233 250h1v7h-1zM234 250h1v5h-1zM235 247h1v8h-1zM262 249h1v3h-1zM263 249h1v6h-1zM264 250h1v1h-1zM265 244h1v14h-1zM266 242h1v10h-1zM267 242h1v9h-1zM268 249h1v9h-1zM269 249h1v9h-1zM270 243h1v12h-1zM271 250h1v1h-1zM272 248h1v6h-1zM273 245h1v13h-1zM274 247h1v9h-1zM275 246h1v8h-1zM276 247h1v7h-1zM277 245h1v9h-1zM278 243h1v13h-1zM279 250h1v2h-1zM280 250h1v1h-1zM281 248h1v4h-1zM282 246h1v8h-1zM283 244h1v14h-1zM284 243h1v13h-1zM285 250h1v5h-1zM286 250h1v1h-1zM287 246h1v10h-1zM288 250h1v3h-1zM289 247h1v4h-1zM290 246h1v8h-1zM291 250h1v2h-1zM292 242h1v14h-1zM293 250h1v1h-1zM294 247h1v11h-1zM295 250h1v8h-1zM296 250h1v3h-1zM297 245h1v8h-1zM298 247h1v5h-1zM299 244h1v9h-1zM300 247h1v4h-1zM301 242h1v14h-1zM302 247h1v5h-1zM303 249h1v5h-1zM304 244h1v8h-1zM305 250h1v1h-1zM306 245h1v10h-1zM307 250h1v1h-1zM308 250h1v1h-1zM309 249h1v2h-1zM310 242h1v15h-1zM311 243h1v8h-1zM312 249h1v8h-1zM410 249h1v6h-1zM411 249h1v5h-1zM412 247h1v7h-1zM413 250h1v2h-1zM414 248h1v7h-1zM415 248h1v5h-1zM416 249h1v4h-1zM417 250h1v1h-1zM418 250h1v1h-1zM419 247h1v5h-1zM423 250h1v5h-1zM424 247h1v4h-1zM425 250h1v5h-1zM426 246h1v11h-1zM427 250h1v1h-1zM428 250h1v6h-1zM429 246h1v8h-1zM430 247h1v6h-1zM431 247h1v5h-1zM432 247h1v8h-1zM433 249h1v5h-1zM434 248h1v4h-1zM376 250h1v1h-1zM377 249h1v2h-1zM378 248h1v8h-1zM379 247h1v5h-1zM380 246h1v6h-1zM381 246h1v9h-1zM382 245h1v12h-1zM383 245h1v12h-1zM384 246h1v7h-1zM385 244h1v10h-1zM386 244h1v9h-1zM387 245h1v11h-1zM388 250h1v1h-1zM389 248h1v6h-1zM390 249h1v3h-1zM391 249h1v4h-1zM392 248h1v9h-1zM393 244h1v13h-1zM394 245h1v8h-1zM395 245h1v6h-1zM396 246h1v10h-1zM397 250h1v1h-1zM398 250h1v1h-1zM399 246h1v10h-1zM400 245h1v9h-1zM401 247h1v5h-1zM402 244h1v14h-1zM403 249h1v3h-1zM404 244h1v9h-1zM405 250h1v1h-1zM406 250h1v1h-1zM407 250h1v3h-1zM408 250h1v1h-1zM409 244h1v8h-1zM410 247h1v10h-1zM453 244h1v10h-1zM454 250h1v1h-1zM455 248h1v9h-1zM456 245h1v12h-1zM457 248h1v4h-1zM458 250h1v6h-1zM459 244h1v10h-1zM460 245h1v10h-1zM461 249h1v4h-1zM462 244h1v9h-1zM463 245h1v12h-1zM464 244h1v10h-1zM465 249h1v7h-1zM466 249h1v2h-1zM467 250h1v4h-1zM468 246h1v10h-1zM469 244h1v9h-1zM470 244h1v15h-1zM471 250h1v1h-1zM472 249h1v8h-1zM473 250h1v1h-1zM474 249h1v5h-1zM475 244h1v15h-1zM476 247h1v10h-1zM477 246h1v9h-1zM478 245h1v14h-1zM479 244h1v15h-1zM480 249h1v9h-1zM481 249h1v10h-1zM482 250h1v7h-1zM483 248h1v9h-1zM484 248h1v10h-1zM485 250h1v7h-1zM486 244h1v11h-1zM487 246h1v10h-1zM488 243h1v12h-1zM489 246h1v9h-1zM490 247h1v4h-1zM491 244h1v13h-1zM492 245h1v12h-1zM493 245h1v7h-1zM494 247h1v10h-1zM495 246h1v8h-1zM496 249h1v9h-1zM497 247h1v5h-1zM498 244h1v14h-1zM499 250h1v6h-1zM551 250h1v3h-1zM552 247h1v7h-1zM571 246h1v10h-1zM572 246h1v6h-1zM573 249h1v3h-1zM574 246h1v7h-1zM575 246h1v7h-1zM576 246h1v10h-1zM313 246h1v3h-1zM313 250h1v1h-1zM313 251h1v2h-1zM314 246h1v3h-1zM314 250h1v1h-1zM314 251h1v3h-1zM315 246h1v3h-1zM315 250h1v1h-1zM315 251h1v1h-1zM316 246h1v3h-1zM316 249h1v1h-1zM316 250h1v1h-1zM316 251h1v1h-1zM317 246h1v3h-1zM317 249h1v1h-1zM317 250h1v1h-1zM317 251h1v1h-1zM318 246h1v3h-1zM318 250h1v1h-1zM318 251h1v2h-1zM319 246h1v3h-1zM319 250h1v1h-1zM319 253h1v1h-1zM320 246h1v3h-1zM320 250h1v1h-1zM320 251h1v3h-1zM321 246h1v3h-1zM321 250h1v1h-1zM321 253h1v2h-1zM322 246h1v3h-1zM322 250h1v1h-1zM323 246h1v3h-1zM323 250h1v1h-1zM323 252h1v2h-1zM324 246h1v3h-1zM324 250h1v1h-1zM324 253h1v1h-1zM325 246h1v3h-1zM325 250h1v1h-1zM325 251h1v6h-1zM326 246h1v3h-1zM326 250h1v1h-1zM327 246h1v3h-1zM327 249h1v1h-1zM327 250h1v1h-1zM328 246h1v3h-1zM328 250h1v1h-1zM328 253h1v2h-1zM329 246h1v3h-1zM329 250h1v1h-1zM330 246h1v3h-1zM330 250h1v1h-1zM330 253h1v2h-1zM331 246h1v3h-1zM331 250h1v1h-1zM331 253h1v1h-1zM332 246h1v3h-1zM333 246h1v3h-1zM333 250h1v1h-1zM333 253h1v2h-1zM336 247h1v2h-1zM336 250h1v1h-1zM336 252h1v1h-1zM337 247h1v2h-1zM337 250h1v1h-1zM337 251h1v3h-1zM338 247h1v2h-1zM338 246h1v1h-1zM338 250h1v1h-1zM339 247h1v2h-1zM339 250h1v1h-1zM339 253h1v1h-1zM341 246h1v1h-1zM341 250h1v1h-1zM342 247h1v2h-1zM342 246h1v1h-1zM342 250h1v1h-1zM342 253h1v2h-1zM343 247h1v2h-1zM343 250h1v1h-1zM343 252h1v1h-1zM344 247h1v2h-1zM344 250h1v1h-1zM345 250h1v1h-1zM345 252h1v1h-1zM346 247h1v2h-1zM346 249h1v1h-1zM346 250h1v1h-1zM347 247h1v2h-1zM347 246h1v1h-1zM347 250h1v1h-1zM347 251h1v1h-1zM348 247h1v2h-1zM348 250h1v1h-1zM349 249h1v1h-1zM349 250h1v1h-1zM350 247h1v2h-1zM350 246h1v1h-1zM350 250h1v1h-1zM350 251h1v6h-1zM351 247h1v2h-1zM351 250h1v1h-1zM351 253h1v2h-1zM353 247h1v2h-1zM353 246h1v1h-1zM353 250h1v1h-1zM353 251h1v1h-1zM354 250h1v1h-1zM354 251h1v1h-1zM355 247h1v2h-1zM355 246h1v1h-1zM355 249h1v1h-1zM355 250h1v1h-1zM355 252h1v2h-1zM356 247h1v2h-1zM356 246h1v1h-1zM356 250h1v1h-1zM356 251h1v3h-1zM357 247h1v2h-1zM357 250h1v1h-1zM357 251h1v3h-1zM358 247h1v2h-1zM358 246h1v1h-1zM358 250h1v1h-1zM359 247h1v2h-1zM359 250h1v1h-1zM359 253h1v1h-1zM360 250h1v1h-1zM361 247h1v2h-1zM361 249h1v1h-1zM361 250h1v1h-1zM361 251h1v3h-1zM362 247h1v2h-1zM362 253h1v1h-1zM499 256h1v6h-1zM500 255h1v5h-1zM501 255h1v6h-1zM502 255h1v5h-1zM503 256h1v4h-1zM504 257h1v3h-1zM505 257h1v4h-1zM506 256h1v5h-1zM507 257h1v2h-1zM508 257h1v3h-1zM509 256h1v4h-1zM510 257h1v3h-1zM511 256h1v4h-1zM512 257h1v2h-1zM513 256h1v3h-1zM514 256h1v3h-1zM515 257h1v2h-1zM516 255h1v6h-1zM517 257h1v4h-1zM518 256h1v3h-1zM519 255h1v6h-1zM520 255h1v5h-1zM521 255h1v6h-1zM522 257h1v2h-1zM523 255h1v5h-1zM524 255h1v7h-1zM525 257h1v5h-1zM526 255h1v7h-1zM527 255h1v5h-1zM528 255h1v6h-1zM529 256h1v6h-1zM530 255h1v6h-1zM531 257h1v3h-1zM532 257h1v3h-1zM533 255h1v7h-1zM534 255h1v7h-1zM535 257h1v4h-1zM536 257h1v3h-1zM537 256h1v6h-1zM538 257h1v3h-1zM539 257h1v5h-1zM540 256h1v3h-1zM541 255h1v4h-1zM542 257h1v5h-1zM543 255h1v6h-1zM544 255h1v4h-1zM545 257h1v5h-1z" fill="#000" shape-rendering="crispEdges"/>
<path d="M206 246h1v7h-1zM207 247h1v8h-1zM210 247h1v5h-1zM214 246h1v9h-1zM220 248h1v7h-1zM226 246h1v7h-1zM228 247h1v7h-1zM233 246h1v6h-1zM234 248h1v5h-1zM235 247h1v5h-1zM264 246h1v6h-1zM265 246h1v9h-1zM267 247h1v6h-1zM274 247h1v7h-1zM279 247h1v6h-1zM282 247h1v6h-1zM287 248h1v6h-1zM291 248h1v5h-1zM296 246h1v7h-1zM298 247h1v8h-1zM304 248h1v5h-1zM308 247h1v6h-1zM376 246h1v8h-1zM381 248h1v4h-1zM387 248h1v7h-1zM391 247h1v8h-1zM392 248h1v7h-1zM393 247h1v6h-1zM395 246h1v8h-1zM396 246h1v7h-1zM399 247h1v8h-1zM410 246h1v8h-1zM427 248h1v7h-1zM433 246h1v9h-1zM456 246h1v8h-1zM466 248h1v7h-1zM469 246h1v6h-1zM475 246h1v6h-1zM479 248h1v5h-1zM480 246h1v9h-1zM487 247h1v5h-1zM488 247h1v8h-1zM489 248h1v5h-1zM491 246h1v6h-1z" fill="#fff" shape-rendering="crispEdges"/>
<g stroke="#000" stroke-width="1" fill="none" shape-rendering="crispEdges">
<rect x="75.5" y="75.5" width="501" height="351"/>
<line x1="76" y1="418.5" x2="86" y2="418.5"/>
<line x1="76" y1="390.5" x2="81" y2="390.5"/>
<line x1="76" y1="362.5" x2="86" y2="362.5"/>
<line x1="76" y1="334.5" x2="81" y2="334.5"/>
<line x1="76" y1="306.5" x2="86" y2="306.5"/>
<line x1="76" y1="278.5" x2="81" y2="278.5"/>
<line x1="76" y1="250.5" x2="86" y2="250.5"/>
<line x1="76" y1="222.5" x2="81" y2="222.5"/>
<line x1="76" y1="194.5" x2="86" y2="194.5"/>
<line x1="76" y1="166.5" x2="81" y2="166.5"/>
<line x1="76" y1="138.5" x2="86" y2="138.5"/>
<line x1="76" y1="110.5" x2="81" y2="110.5"/>
<line x1="76" y1="82.5" x2="86" y2="82.5"/>
<line x1="576" y1="415.5" x2="566" y2="415.5"/>
<line x1="576" y1="387.5" x2="571" y2="387.5"/>
<line x1="576" y1="360.5" x2="566" y2="360.5"/>
<line x1="576" y1="333.5" x2="571" y2="333.5"/>
<line x1="576" y1="305.5" x2="566" y2="305.5"/>
<line x1="576" y1="278.5" x2="571" y2="278.5"/>
<line x1="576" y1="251.5" x2="566" y2="251.5"/>
<line x1="576" y1="223.5" x2="571" y2="223.5"/>
<line x1="576" y1="196.5" x2="566" y2="196.5"/>
<line x1="576" y1="168.5" x2="571" y2="168.5"/>
<line x1="576" y1="141.5" x2="566" y2="141.5"/>
<line x1="576" y1="114.5" x2="571" y2="114.5"/>
<line x1="576" y1="86.5" x2="566" y2="86.5"/>
<line x1="125.5" y1="426" x2="125.5" y2="421"/>
<line x1="125.5" y1="76" x2="125.5" y2="81"/>
<line x1="176.5" y1="426" x2="176.5" y2="416"/>
<line x1="176.5" y1="76" x2="176.5" y2="86"/>
<line x1="226.5" y1="426" x2="226.5" y2="421"/>
<line x1="226.5" y1="76" x2="226.5" y2="81"/>
<line x1="276.5" y1="426" x2="276.5" y2="416"/>
<line x1="276.5" y1="76" x2="276.5" y2="86"/>
<line x1="327.5" y1="426" x2="327.5" y2="421"/>
<line x1="327.5" y1="76" x2="327.5" y2="81"/>
<line x1="377.5" y1="426" x2="377.5" y2="416"/>
<line x1="377.5" y1="76" x2="377.5" y2="86"/>
<line x1="427.5" y1="426" x2="427.5" y2="421"/>
<line x1="427.5" y1="76" x2="427.5" y2="81"/>
<line x1="478.5" y1="426" x2="478.5" y2="416"/>
<line x1="478.5" y1="76" x2="478.5" y2="86"/>
<line x1="528.5" y1="426" x2="528.5" y2="421"/>
<line x1="528.5" y1="76" x2="528.5" y2="81"/>
</g>
<g font-family="'Liberation Serif', serif" fill="#111" style="opacity:0.999">
<text x="215.7" y="45.4" font-size="21">Thin</text>
<text x="259.5" y="45.4" font-size="21">Client</text>
<text x="319.0" y="45.4" font-size="21">Traffic</text>
<text x="381.4" y="45.4" font-size="21">Profile</text>
<text x="290.4" y="63.4" font-size="14.2">64 kbps CIR</text>
<text x="71" y="87.7" font-size="14" text-anchor="end">96</text>
<text x="71" y="423.7" font-size="14" text-anchor="end">96</text>
<text x="71" y="143.7" font-size="14" text-anchor="end">64</text>
<text x="71" y="367.7" font-size="14" text-anchor="end">64</text>
<text x="71" y="199.7" font-size="14" text-anchor="end">32</text>
<text x="71" y="311.7" font-size="14" text-anchor="end">32</text>
<text x="71" y="255.7" font-size="14" text-anchor="end">0</text>
<text x="582.2" y="91.7" font-size="14">1500</text>
<text x="582.2" y="420.7" font-size="14">1500</text>
<text x="582.2" y="146.7" font-size="14">1000</text>
<text x="582.2" y="365.7" font-size="14">1000</text>
<text x="582.2" y="201.7" font-size="14">500</text>
<text x="582.2" y="310.7" font-size="14">500</text>
<text x="582.2" y="256.7" font-size="14">0</text>
<text x="76.6" y="442.6" font-size="14" text-anchor="middle">0</text>
<text x="176.5" y="442.6" font-size="14" text-anchor="middle">500</text>
<text x="277.0" y="442.6" font-size="14" text-anchor="middle">1000</text>
<text x="378.1" y="442.6" font-size="14" text-anchor="middle">1500</text>
<text x="479.4" y="442.6" font-size="14" text-anchor="middle">2000</text>
<text x="326.4" y="472.2" font-size="14.25" text-anchor="middle">Seconds</text>
<text transform="translate(40.5,251) rotate(-90)" font-size="14.2" text-anchor="middle">Bandwidth, kbps</text>
<text transform="translate(621,251) rotate(-90)" font-size="14.2" text-anchor="middle">Packet Size, bytes</text>
<text x="509.2" y="40.7" font-size="14.05">From Server</text>
<text x="509.2" y="56.0" font-size="14.05">From Client</text>
</g>
<rect x="476.5" y="25.5" width="108" height="35" fill="none" stroke="#000" stroke-width="1" shape-rendering="crispEdges"/>
<path d="M481 35h3v1h-3zM482 34h1v3h-1zM501 35h3v1h-3zM502 34h1v3h-1z" fill="#f00" shape-rendering="crispEdges"/>
<path d="M481 50h3v1h-3zM482 49h1v3h-1zM501 50h3v1h-3zM502 49h1v3h-1z" fill="#00f" shape-rendering="crispEdges"/>
</svg>
</body></html>
